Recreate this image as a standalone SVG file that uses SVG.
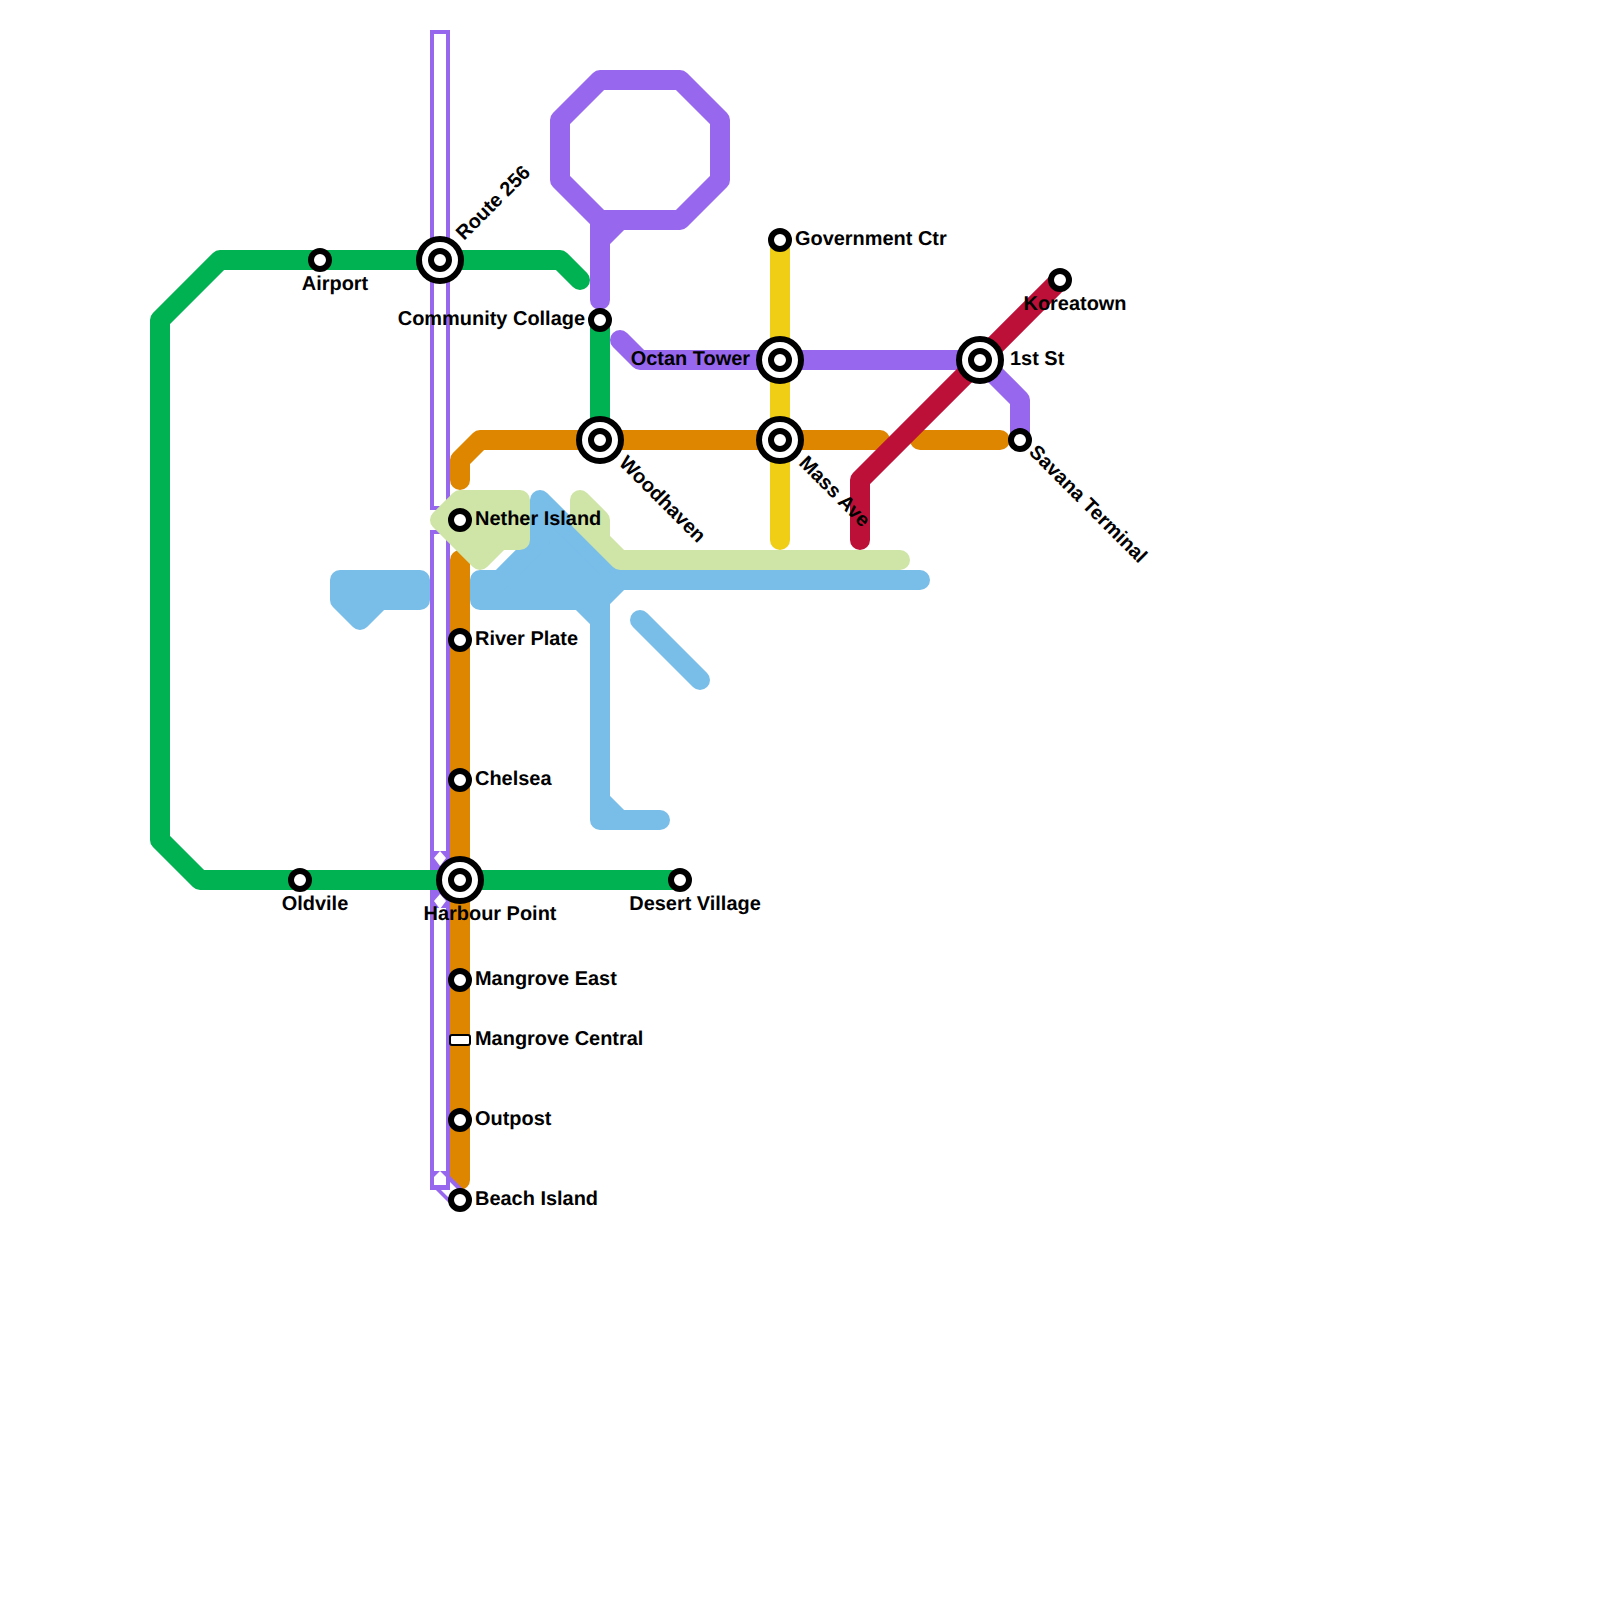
<svg xmlns="http://www.w3.org/2000/svg" width="1600" height="1600" viewBox="0 0 1600 1600">
<style>
.l{fill:none;stroke-width:20;stroke-linecap:round;stroke-linejoin:round}
.f{stroke-width:20;stroke-linejoin:round;stroke-linecap:round}
.p{stroke:#9768ee}.g{stroke:#00b251}.o{stroke:#df8600}.y{stroke:#f0ce15}.c{stroke:#bd1038}
.b{stroke:#79bde9;fill:#79bde9}.n{stroke:#cfe4a7;fill:#cfe4a7}
.w{fill:none;stroke:#fff;stroke-width:12}
.pb{fill:none;stroke:#9768ee;stroke-width:20}
.s{fill:#fff;stroke:#000;stroke-width:6}
.t{font-family:"Liberation Sans",Arial,sans-serif;font-weight:700;font-size:19.95px;fill:#000;text-rendering:geometricPrecision}
</style>
<rect width="1600" height="1600" fill="#fff"/>
<g id="connectors">
<path class="l o" d="M460 480V460L480 440H880M920 440H1000M460 560V1180"/>
<path class="pb" d="M440 30V510M440 530V1190M440 1180L460 1200"/>
<path class="w" d="M440 34V506M440 534V851M440 908V1171"/>
<path d="M434 858L440 851L446 858L440 866Z" fill="#fff"/>
<path d="M434 901L440 894L446 901L440 909Z" fill="#fff"/>
<path d="M434 1177L440 1171L446 1177V1185H434Z" fill="#fff"/>
<path d="M450 1182L468 1200L458 1207L441 1190H450Z" fill="#fff"/>
<path class="l g" d="M580 280L560 260H220L160 320V840L200 880H680M600 320V440"/>
<path class="l p" d="M600 300V220M600 240L620 220M600 220L560 180V120L600 80H680L720 120V180L680 220H600M620 340L640 360H980L1020 400V440"/>
<path class="l y" d="M780 240V540"/>
<path class="f b" d="M340 580H420V600H380L360 620L340 600Z"/>
<path class="f b" d="M540 500L620 580H920H620L600 600V800L620 820H660H600V620L580 600H480V580H500L540 540Z"/>
<path class="l b" d="M640 620L700 680"/>
<path class="f n" d="M440 520L460 500H520V540H500L480 560Z"/>
<path class="f n" d="M580 500L600 520V540L620 560H900H620L580 520Z"/>
<path class="l c" d="M860 540V480L1060 280"/>
</g>
<g id="st-route256"><circle class="s" cx="440" cy="260" r="21"/><circle class="s" cx="440" cy="260" r="9"/><text class="t" transform="translate(464 241) rotate(-45)">Route 256</text></g>
<g id="st-airport"><circle class="s" cx="320" cy="260" r="9"/><text class="t" x="335" y="290" text-anchor="middle">Airport</text></g>
<g id="st-community"><circle class="s" cx="600" cy="320" r="9"/><text class="t" x="585" y="325" text-anchor="end">Community Collage</text></g>
<g id="st-woodhaven"><circle class="s" cx="600" cy="440" r="21"/><circle class="s" cx="600" cy="440" r="9"/><text class="t" transform="translate(618 464) rotate(45)">Woodhaven</text></g>
<g id="st-octan"><circle class="s" cx="780" cy="360" r="21"/><circle class="s" cx="780" cy="360" r="9"/><text class="t" x="750" y="365" text-anchor="end">Octan Tower</text></g>
<g id="st-mass"><circle class="s" cx="780" cy="440" r="21"/><circle class="s" cx="780" cy="440" r="9"/><text class="t" transform="translate(798 464) rotate(45)">Mass Ave</text></g>
<g id="st-1st"><circle class="s" cx="980" cy="360" r="21"/><circle class="s" cx="980" cy="360" r="9"/><text class="t" x="1010" y="365">1st St</text></g>
<g id="st-koreatown"><circle class="s" cx="1060" cy="280" r="9"/><text class="t" x="1075" y="310" text-anchor="middle">Koreatown</text></g>
<g id="st-savana"><circle class="s" cx="1020" cy="440" r="9"/><text class="t" transform="translate(1028 453) rotate(45)">Savana Terminal</text></g>
<g id="st-gov"><circle class="s" cx="780" cy="240" r="9"/><text class="t" x="795" y="245">Government Ctr</text></g>
<g id="st-nether"><circle class="s" cx="460" cy="520" r="9"/><text class="t" x="475" y="525">Nether Island</text></g>
<g id="st-river"><circle class="s" cx="460" cy="640" r="9"/><text class="t" x="475" y="645">River Plate</text></g>
<g id="st-chelsea"><circle class="s" cx="460" cy="780" r="9"/><text class="t" x="475" y="784.5">Chelsea</text></g>
<g id="st-harbour"><circle class="s" cx="460" cy="880" r="21"/><circle class="s" cx="460" cy="880" r="9"/><text class="t" x="490" y="920" text-anchor="middle">Harbour Point</text></g>
<g id="st-oldvile"><circle class="s" cx="300" cy="880" r="9"/><text class="t" x="315" y="910" text-anchor="middle">Oldvile</text></g>
<g id="st-desert"><circle class="s" cx="680" cy="880" r="9"/><text class="t" x="695" y="910" text-anchor="middle">Desert Village</text></g>
<g id="st-mangrove-east"><circle class="s" cx="460" cy="980" r="9"/><text class="t" x="475" y="984.5">Mangrove East</text></g>
<g id="st-mangrove-central"><rect x="450" y="1035" width="20" height="10" rx="2" fill="#fff" stroke="#000" stroke-width="2"/><text class="t" x="475" y="1045">Mangrove Central</text></g>
<g id="st-outpost"><circle class="s" cx="460" cy="1120" r="9"/><text class="t" x="475" y="1124.5">Outpost</text></g>
<g id="st-beach"><circle class="s" cx="460" cy="1200" r="9"/><text class="t" x="475" y="1205">Beach Island</text></g>
</svg>
